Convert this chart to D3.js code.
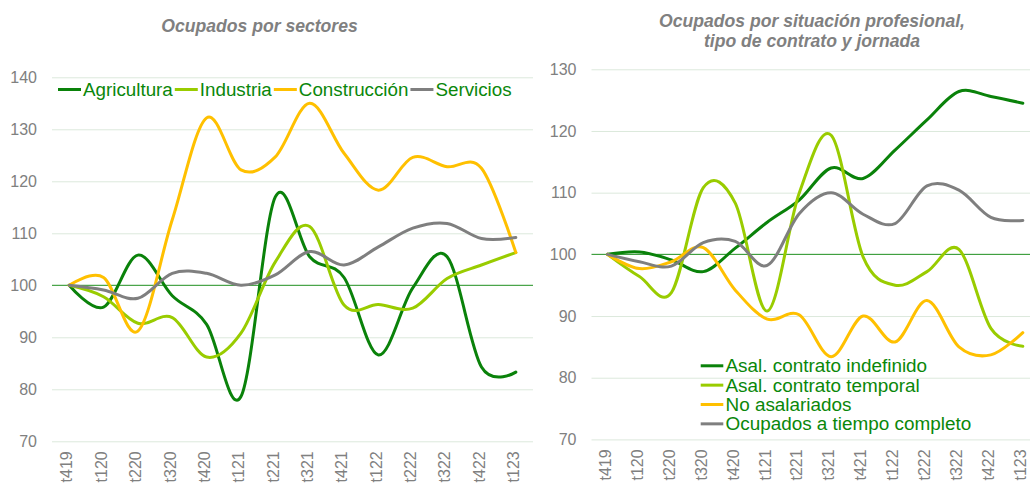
<!DOCTYPE html>
<html>
<head>
<meta charset="utf-8">
<script src="https://cdn.jsdelivr.net/npm/d3@7"></script>
<style>
  html, body { margin: 0; padding: 0; background: #ffffff; }
  svg { display: block; font-family: "Liberation Sans", Arial, sans-serif; }
</style>
</head>
<body>
<svg id="chart" width="1030" height="485"></svg>
<script>
// ---------- DATA ----------
const categories = ["t419","t120","t220","t320","t420","t121","t221","t321","t421","t122","t222","t322","t422","t123"];

// Left chart: Ocupados por sectores
const leftTitle = ["Ocupados por sectores"];
const leftNames = ["Agricultura", "Industria", "Construcción", "Servicios"];
const agricultura  = [100, 95.8, 105.8, 98.0, 92.5, 78.6, 117.0, 105.5, 101.5, 86.6, 99.5, 105.5, 84.3, 83.3];
const industria    = [100, 97.8, 92.7, 93.8, 86.2, 90.8, 104.5, 111.3, 96.2, 96.3, 95.6, 101.3, 103.9, 106.3];
const construccion = [100, 101.5, 91.2, 112.6, 132.2, 122.2, 124.7, 135.0, 125.4, 118.3, 124.6, 122.8, 122.5, 106.3];
const servicios    = [100, 99.1, 97.5, 102.3, 102.3, 100.0, 102.0, 106.5, 103.9, 107.4, 111.0, 111.9, 109.0, 109.2];
const leftTicks = [70, 80, 90, 100, 110, 120, 130, 140];

// Right chart: Ocupados por situación profesional, tipo de contrato y jornada
const rightTitle = ["Ocupados por situación profesional,", "tipo de contrato y jornada"];
const rightNames = ["Asal. contrato indefinido", "Asal. contrato temporal", "No asalariados", "Ocupados a tiempo completo"];
const indefinido    = [100, 100.4, 99.1, 97.2, 101.0, 105.2, 108.8, 114.0, 112.3, 116.9, 121.8, 126.4, 125.6, 124.5];
const temporal      = [100, 96.4, 93.8, 110.8, 108.3, 90.8, 109.9, 119.3, 99.6, 95.0, 97.2, 100.8, 88.0, 85.1];
const noAsalariados = [100, 97.7, 98.8, 101.1, 94.2, 89.5, 90.2, 83.4, 90.0, 85.8, 92.5, 85.0, 83.7, 87.3];
const tiempoCompleto = [100, 98.8, 98.1, 101.9, 102.1, 98.2, 106.6, 110.0, 106.5, 105.0, 111.1, 110.4, 106.0, 105.5];
const rightTicks = [70, 80, 90, 100, 110, 120, 130];

const colors = ["#0a820a", "#99cc00", "#ffc000", "#7f7f7f"];

// ---------- DRAW ----------
const svg = d3.select("#chart");
svg.append("rect").attr("width", 1030).attr("height", 485).attr("fill", "#ffffff");

function drawPanel(cfg) {
  const g = svg.append("g");
  const x = d3.scaleBand().domain(categories).range([cfg.x0, cfg.x1]).padding(0);
  const y = d3.scaleLinear().domain(cfg.domain).range([cfg.yBottom, cfg.yTop]);
  const cx = d => x(d) + x.bandwidth() / 2;

  // gridlines
  const grid = g.append("g")
    .attr("transform", `translate(${cfg.x0},0)`)
    .call(d3.axisLeft(y).tickValues(cfg.ticks.filter(t => t !== 100)).tickSize(-(cfg.x1 - cfg.x0)).tickFormat(""));
  grid.select(".domain").remove();
  grid.selectAll(".tick line").attr("stroke", "#dce9dc").attr("stroke-width", 1);

  // reference line at 100
  g.append("line")
    .attr("x1", cfg.x0).attr("x2", cfg.x1)
    .attr("y1", y(100)).attr("y2", y(100))
    .attr("stroke", "#1f8f1f").attr("stroke-width", 1);

  // y labels
  const ya = g.append("g")
    .attr("transform", `translate(${cfg.x0 - 15},0)`)
    .call(d3.axisLeft(y).tickValues(cfg.ticks).tickSize(0).tickPadding(0));
  ya.select(".domain").remove();
  ya.selectAll("text")
    .attr("fill", "#808080").attr("font-size", "16px")
    .attr("font-family", "'Liberation Sans', Arial, sans-serif");

  // x labels
  const xa = g.append("g")
    .attr("transform", `translate(-2,${cfg.yBottom})`)
    .call(d3.axisBottom(x).tickSize(0));
  xa.select(".domain").remove();
  xa.selectAll("text")
    .attr("transform", "rotate(-90)")
    .attr("text-anchor", "end")
    .attr("x", -10).attr("y", 0).attr("dy", "0.33em")
    .attr("fill", "#808080").attr("font-size", "16px")
    .attr("font-family", "'Liberation Sans', Arial, sans-serif");

  // lines
  const line = d3.line()
    .x((d, i) => cx(categories[i]))
    .y(d => y(d))
    .curve(d3.curveCatmullRom.alpha(0));
  cfg.series.forEach((s, k) => {
    g.append("path")
      .datum(s)
      .attr("d", line)
      .attr("fill", "none")
      .attr("stroke", colors[k])
      .attr("stroke-width", 3)
      .attr("stroke-linejoin", "round")
      .attr("stroke-linecap", "round");
  });

  // title
  const t = g.append("text")
    .attr("text-anchor", "middle")
    .attr("font-size", "17.6px").attr("font-weight", "bold").attr("font-style", "italic")
    .attr("fill", "#808080");
  cfg.title.forEach((ln, i) => {
    t.append("tspan").attr("x", cfg.titleX).attr("y", cfg.titleY + i * 20).text(ln);
  });

  return g;
}

drawPanel({
  x0: 52, x1: 533, yBottom: 441.3, yTop: 77.3, domain: [70, 140],
  ticks: leftTicks,
  series: [agricultura, industria, construccion, servicios],
  title: leftTitle, titleX: 259.5, titleY: 32
});

drawPanel({
  x0: 591.5, x1: 591.5 + 14 * 31.95, yBottom: 439.4, yTop: 69.3, domain: [70, 130],
  ticks: rightTicks,
  series: [indefinido, temporal, noAsalariados, tiempoCompleto],
  title: rightTitle, titleX: 812, titleY: 27
});

// Left legend (horizontal)
const legL = svg.append("g");
let lx = 58;
leftNames.forEach((name, k) => {
  legL.append("line").attr("x1", lx).attr("x2", lx + 23).attr("y1", 89.5).attr("y2", 89.5)
    .attr("stroke", colors[k]).attr("stroke-width", 3);
  const tx = legL.append("text").attr("x", lx + 25).attr("y", 96)
    .attr("font-size", "18.8px").attr("fill", "#0a870a").text(name);
  lx = lx + 25 + tx.node().getComputedTextLength() + 2;
});

// Right legend (vertical)
const legR = svg.append("g");
rightNames.forEach((name, k) => {
  const by = 372.3 + k * 19.35;
  legR.append("line").attr("x1", 700.7).attr("x2", 723.3).attr("y1", by - 6.5).attr("y2", by - 6.5)
    .attr("stroke", colors[k]).attr("stroke-width", 3);
  legR.append("text").attr("x", 725.5).attr("y", by)
    .attr("font-size", "18.9px").attr("fill", "#0a870a").text(name);
});
</script>
</body>
</html>
